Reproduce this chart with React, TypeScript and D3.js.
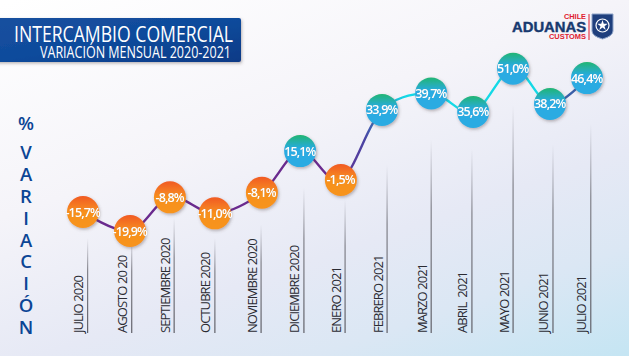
import React from "react";
import * as d3 from "d3";

const months = ["JULIO 2020","AGOSTO 20 20","SEPTIEMBRE 2020","OCTUBRE 2020","NOVIEMBRE 2020","DICIEMBRE 2020","ENERO 2021","FEBRERO 2021","MARZO 2021","ABRIL  2021","MAYO 2021","JUNIO 2021","JULIO 2021"];
const valueLabels = ["-15,7%","-19,9%","-8,8%","-11,0%","-8,1%","15,1%","-1,5%","33,9%","39,7%","35,6%","51,0%","38,2%","46,4%"];
const plottedLevels = [-11.6,-19.9,-5.2,-12.2,-3.2,15.0,2.4,33,40.2,32.1,51,35.6,46.9];
const pointSlots = [0,1.12,2.07,3.14,4.26,5.17,6.14,7.12,8.29,9.29,10.24,11.12,12];
const ruleSlots = [0.11,1.16,2.17,3.14,4.24,5.26,6.24,7.24,8.29,9.26,10.24,11.19,12.09];
const ruleTopLevels = [-23,-23,-14,-23,-17,-1,-6,9,20,16,35,18,27];
const isNegativeStyle = [true,true,true,true,true,false,true,false,false,false,false,false,false];
const axisUnit = "%";
const axisTitle = ["V","A","R","I","A","C","I","Ó","N"];

const W = 629, H = 364;
const FONT = "'Open Sans', 'Noto Sans', sans-serif";

export default function App() {
  const x = d3.scaleLinear().domain([0, 12]).range([83, 587]);
  const y = d3.scaleLinear().domain([-19.9, 51]).range([231, 68.7]);
  const pts = plottedLevels.map((v, i) => [x(pointSlots[i]), y(v)] as [number, number]);
  const line = d3.line<[number, number]>().x(d => d[0]).y(d => d[1]).curve(d3.curveCardinal.tension(0));
  const letterY = d3.scalePoint<number>().domain(axisTitle.map((_, i) => i)).range([159, 334]);
  return (
    <svg width={W} height={H} viewBox={`0 0 ${W} ${H}`} style={{ position: "absolute", left: 0, top: 0, background: "#fff" }} fontFamily={FONT}>
      <defs>
        <linearGradient id="bg" gradientUnits="userSpaceOnUse" x1="100" y1="-30" x2="277" y2="477">
          <stop offset="0" stopColor="#ffffff" />
          <stop offset="0.375" stopColor="#f5f4f9" />
          <stop offset="0.64" stopColor="#e6e9f5" />
          <stop offset="0.81" stopColor="#dbe7f4" />
          <stop offset="1" stopColor="#c5e5f3" />
        </linearGradient>
        <linearGradient id="banner" x1="0" y1="0" x2="1" y2="1">
          <stop offset="0" stopColor="#17509f" />
          <stop offset="0.5" stopColor="#0f4b9c" />
          <stop offset="1" stopColor="#083a86" />
        </linearGradient>
        <linearGradient id="orange" x1="0" y1="0" x2="0" y2="1">
          <stop offset="0" stopColor="#f15a24" />
          <stop offset="0.5" stopColor="#f7901e" />
          <stop offset="1" stopColor="#f7941d" />
        </linearGradient>
        <linearGradient id="blue" x1="0" y1="0" x2="0" y2="1">
          <stop offset="0" stopColor="#22b573" />
          <stop offset="0.42" stopColor="#29abe2" />
          <stop offset="1" stopColor="#29abe2" />
        </linearGradient>
        <linearGradient id="lineGrad" gradientUnits="userSpaceOnUse" x1="83" y1="0" x2="587" y2="0">
          <stop offset="0" stopColor="#6a2a8e" />
          <stop offset="0.5" stopColor="#6a2a8e" />
          <stop offset="0.56" stopColor="#4a45a4" />
          <stop offset="0.6" stopColor="#22a5d0" />
          <stop offset="0.64" stopColor="#14d9e6" />
          <stop offset="0.91" stopColor="#14d9e6" />
          <stop offset="0.93" stopColor="#3a5fa8" />
          <stop offset="1" stopColor="#3a5fa8" />
        </linearGradient>
        <linearGradient id="rule" x1="0" y1="0" x2="0" y2="1">
          <stop offset="0" stopColor="#8a8a94" stopOpacity="0" />
          <stop offset="0.35" stopColor="#77777f" stopOpacity="0.9" />
          <stop offset="1" stopColor="#5f5f67" />
        </linearGradient>
        <filter id="ds" x="-30%" y="-30%" width="160%" height="160%">
          <feDropShadow dx="1" dy="1.5" stdDeviation="1.4" floodColor="#5a4a4a" floodOpacity="0.4" />
        </filter>
        <filter id="ts" x="-10%" y="-10%" width="120%" height="120%">
          <feDropShadow dx="0" dy="0" stdDeviation="0.7" floodColor="#333" floodOpacity="0.45" />
        </filter>
      </defs>
      <rect x={0} y={0} width={W} height={356} fill="url(#bg)" />

      <rect x={-6} y={18} width={247} height={44} rx={2} fill="url(#banner)" filter="url(#ds)" />
      <text x={14} y={41.5} fill="#fff" fontSize={21} textLength={219} lengthAdjust="spacingAndGlyphs">INTERCAMBIO COMERCIAL</text>
      <text x={40} y={58} fill="#fff" fontSize={15.5} textLength={191} lengthAdjust="spacingAndGlyphs">VARIACIÓN MENSUAL 2020-2021</text>

      <g fontFamily="'Liberation Sans', sans-serif" fontWeight={700}>
        <text x={564} y={19} fill="#e0202e" fontSize={8} textLength={22} lengthAdjust="spacingAndGlyphs">CHILE</text>
        <text x={512} y={32} fill="#17396f" fontSize={14} textLength={74} lengthAdjust="spacingAndGlyphs" stroke="#17396f" strokeWidth={0.4}>ADUANAS</text>
        <text x={549} y={39} fill="#e0202e" fontSize={8} textLength={37} lengthAdjust="spacingAndGlyphs">CUSTOMS</text>
        <line x1={589} x2={589} y1={14} y2={40} stroke="#e0202e" strokeWidth={1} />
        <path d="M592 14 H613 V31 Q613 36 602.5 39 Q592 36 592 31 Z" fill="#1f3f7d" stroke="#8ea4c8" strokeWidth={1} />
        <circle cx={602.5} cy={25.5} r={6.5} fill="none" stroke="#fff" strokeWidth={1.2} />
        <path d={d3.symbol().type(d3.symbolStar).size(34)() as string} transform="translate(602.5 25.5)" fill="#fff" />
      </g>

      <text x={26} y={130} textAnchor="middle" fontSize={18.5} fontWeight={600} fill="#0b4595">{axisUnit}</text>
      {axisTitle.map((c, i) => (
        <text key={i} x={26} y={letterY(i)} textAnchor="middle" fontSize={18.5} fontWeight={600} fill="#0b4595">{c}</text>
      ))}

      {months.map((_, i) => (
        <rect key={i} x={x(ruleSlots[i]) - 0.6} y={y(ruleTopLevels[i])} width={1.2} height={333 - y(ruleTopLevels[i])} fill="url(#rule)" />
      ))}
      {months.map((m, i) => (
        <text key={m + i} transform={`translate(${x(ruleSlots[i]) - 4.5} 333) rotate(-90)`} fontSize={13} fill="#2b2b33" letterSpacing={-0.95} xmlSpace="preserve">{m}</text>
      ))}

      <path d={line(pts) as string} fill="none" stroke="url(#lineGrad)" strokeWidth={2.4} />

      {pts.map((p, i) => (
        <g key={i}>
          <circle cx={p[0]} cy={p[1]} r={16} fill={isNegativeStyle[i] ? "url(#orange)" : "url(#blue)"} filter="url(#ds)" />
          <text x={p[0] - 0.3} y={p[1] + 4.5} textAnchor="middle" fill="#fff" fontSize={12.5} fontWeight={600} letterSpacing={-0.85} filter="url(#ts)">{valueLabels[i]}</text>
        </g>
      ))}
    </svg>
  );
}
